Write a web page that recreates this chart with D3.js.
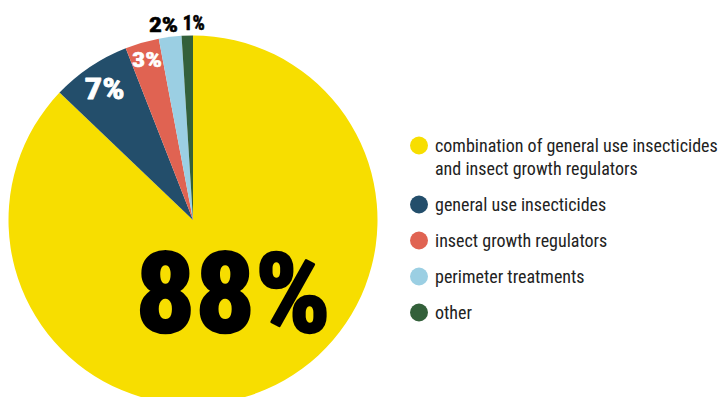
<!DOCTYPE html>
<html>
<head>
<meta charset="utf-8">
<script src="https://cdn.jsdelivr.net/npm/d3@7"></script>
<style>
  body { margin: 0; background: #fff; }
  text { font-family: "Roboto Condensed", "Liberation Sans Narrow", "DejaVu Sans Condensed", sans-serif; }
</style>
</head>
<body>
<script>
// Chart data
let categories = [
  "combination of general use insecticides and insect growth regulators",
  "general use insecticides",
  "insect growth regulators",
  "perimeter treatments",
  "other"
];
let shares = [88, 7, 3, 2, 1];
let shareLabels = ["88%", "7%", "3%", "2%", "1%"];
let legendLines = [
  ["combination of general use insecticides", "and insect growth regulators"],
  ["general use insecticides"],
  ["insect growth regulators"],
  ["perimeter treatments"],
  ["other"]
];
let colors = ["#f7de00", "#234e6b", "#e06352", "#9bcfe3", "#33603a"];

let width = 723, height = 397;
let cx = 193, cy = 220, radius = 184.5;

let svg = d3.select("body")
  .append("svg")
    .attr("width", width)
    .attr("height", height);

let data = categories.map((c, i) => ({ name: c, value: shares[i], label: shareLabels[i], color: colors[i] }));

// Pie starts at 12 o'clock, yellow first, going clockwise
let pie = d3.pie()
  .value(d => d.value)
  .sort(null);
let arcs = pie(data);

let arc = d3.arc().innerRadius(0).outerRadius(radius);

let g = svg.append("g")
  .attr("transform", "translate(" + cx + "," + cy + ")");

g.selectAll("path")
  .data(arcs).enter()
  .append("path")
    .attr("d", arc)
    .attr("fill", d => d.data.color);

// Labels: big one inside, medium ones near rim, small ones outside
let labelStyle = [
  { r: 0.44, size: 112, fill: "#000", dx: 8, dy: -2.5, w: 195, sw: 2.5 },
  { r: 0.86, size: 30, fill: "#fff", dx: 0, dy: 0, w: 40, sw: 0.8 },
  { r: 0.905, size: 21, fill: "#fff", dx: 0, dy: 0, w: 30, sw: 0.6 },
  { r: 1.07, size: 21, fill: "#000", dx: -5, dy: 0, w: 29, sw: 0.6 },
  { r: 1.07, size: 21, fill: "#000", dx: 7, dy: 0, w: 22, sw: 0.6 }
];

g.selectAll("text.pct")
  .data(arcs).enter()
  .append("text")
    .attr("class", "pct")
    .each(function(d, i) {
      let s = labelStyle[i];
      let a = (d.startAngle + d.endAngle) / 2;
      let rr = radius * s.r;
      d3.select(this)
        .attr("x", Math.sin(a) * rr + s.dx)
        .attr("y", -Math.cos(a) * rr + s.dy)
        .attr("dy", "0.36em")
        .attr("text-anchor", "middle")
        .attr("font-size", s.size + "px")
        .attr("font-weight", "bold")
        .attr("fill", s.fill)
        .attr("stroke", s.fill)
        .attr("stroke-width", s.sw)
        .attr("stroke-linejoin", "round")
        .attr("textLength", s.w)
        .attr("lengthAdjust", "spacingAndGlyphs")
        .text(d.data.label);
    });

// Legend
let legend = svg.append("g")
  .attr("transform", "translate(419, 0)");

let rowY = d3.scalePoint()
  .domain(d3.range(1, categories.length))
  .range([204.5, 312.5]);

let rows = legend.selectAll("g.row")
  .data(data).enter()
  .append("g")
    .attr("class", "row")
    .attr("transform", (d, i) => "translate(0," + (i === 0 ? 145.5 : rowY(i)) + ")");

rows.append("circle")
  .attr("r", 9)
  .attr("fill", d => d.color);

rows.each(function(d, i) {
  let t = d3.select(this).append("text")
    .attr("x", 16)
    .attr("font-size", "18px")
    .attr("fill", "#222");
  legendLines[i].forEach((line, j) => {
    t.append("tspan")
      .attr("x", 16)
      .attr("y", j * 23)
      .attr("dy", "0.36em")
      .text(line);
  });
});
</script>
</body>
</html>
